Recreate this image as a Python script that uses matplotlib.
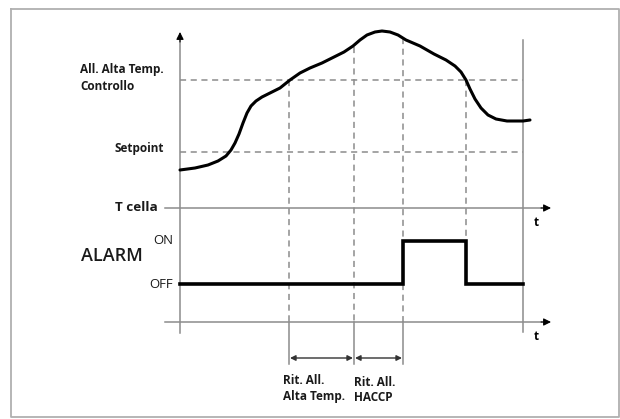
import matplotlib.pyplot as plt

plt.rcParams['font.family'] = ['Open Sans', 'DejaVu Sans']

# temperature curve (x = time, y = screen position of the temperature)
curve_t = [180, 195, 208, 218, 226, 231, 235, 239, 243, 247, 251, 256, 262, 270, 280,
           290, 300, 310, 322, 334, 344, 353, 360, 367, 375, 382, 390, 398, 406,
           420, 434, 446, 455, 461, 466, 470, 475, 481, 488, 496, 507, 523, 530]
curve_temp = [170, 168, 165, 161, 156, 150, 143, 134, 123, 113, 106, 101, 97, 93, 88,
              80, 73, 68, 63, 57, 52, 46, 40, 35, 32, 31, 32, 35, 40,
              46, 54, 60, 66, 72, 80, 89, 99, 108, 115, 119, 121, 121, 120]

# thresholds
level_alarm = 80
level_setpoint = 152

# event times: alarm threshold crossed, delay end, HACCP end, back below
t_cross = 289
t_delay = 354
t_haccp = 403
t_back = 466
t_end = 523
t_start = 180
peak_top = [80, 47, 38, 80]

# alarm signal
alarm_on = 241
alarm_off = 284
alarm_t = [t_start, t_haccp, t_haccp, t_back, t_back, t_end]
alarm_y = [alarm_off, alarm_off, alarm_on, alarm_on, alarm_off, alarm_off]

axis_temp = 208
axis_alarm = 322

fig = plt.figure(figsize=(6.2, 4.19), dpi=100)
ax = fig.add_axes([0, 0, 1, 1])
ax.set_xlim(0, 620)
ax.set_ylim(419, 0)
ax.axis('off')

grey = '#8c8c8c'
dash = '#8c8c8c'
ink = '#1a1a1a'

# frame
ax.plot([11, 619, 619, 11, 11], [9, 9, 417, 417, 9], color='#b0b0b0', lw=1.3)

# main vertical axis with arrow
ax.plot([t_start, t_start], [333, 40], color=grey, lw=1.1)
ax.annotate('', xy=(t_start, 32), xytext=(t_start, 42),
            arrowprops=dict(arrowstyle='-|>', color='black', lw=0.8,
                            mutation_scale=11, shrinkA=0, shrinkB=0))
# right border line
ax.plot([t_end, t_end], [40, 332], color=grey, lw=1.1)

# time axes
for ya in [axis_temp, axis_alarm]:
    ax.plot([165, 542], [ya, ya], color=grey, lw=1.1)
    ax.annotate('', xy=(551, ya), xytext=(541, ya),
                arrowprops=dict(arrowstyle='-|>', color='black', lw=0.8,
                                mutation_scale=11, shrinkA=0, shrinkB=0))
    ax.text(536, ya + 14, 't', fontsize=8.5, fontweight='bold', ha='center', va='center')

# threshold lines
for lv in [level_alarm, level_setpoint]:
    ax.plot([t_start, t_end], [lv, lv], color=dash, lw=1.1, ls=(0, (4, 3)))

# vertical event lines
events = [t_cross, t_delay, t_haccp, t_back]
ends = [axis_alarm, axis_alarm, axis_alarm, alarm_on]
for tx, top, bot in zip(events, peak_top, ends):
    ax.plot([tx, tx], [top, bot], color=dash, lw=1.1, ls=(0, (4, 3)))
for tx in [t_cross, t_delay, t_haccp]:
    ax.plot([tx, tx], [axis_alarm, 364], color=grey, lw=1.1)

# temperature curve
ax.plot(curve_t, curve_temp, color='black', lw=2.2, solid_joinstyle='round',
        solid_capstyle='round')

# alarm signal
ax.plot(alarm_t, alarm_y, color='black', lw=2.6, solid_joinstyle='miter')

# delay dimension arrows
for a, b in [(t_cross, t_delay), (t_delay, t_haccp)]:
    ax.annotate('', xy=(b - 1, 358), xytext=(a + 1, 358),
                arrowprops=dict(arrowstyle='<|-|>', color='#333333', lw=1.0,
                                mutation_scale=8, shrinkA=0, shrinkB=0))

# labels
ax.text(80, 69, 'All. Alta Temp.', fontsize=8.5, fontweight='bold', va='center', color=ink)
ax.text(80, 86, 'Controllo', fontsize=8.5, fontweight='bold', va='center', color=ink)
ax.text(164, 148, 'Setpoint', fontsize=8.5, fontweight='bold', va='center', ha='right', color=ink)
ax.text(158, 207, 'T cella', fontsize=9.7, fontweight='bold', va='center', ha='right', color=ink)
ax.text(81, 256, 'ALARM', fontsize=13, fontweight='semibold', va='center', color=ink)
ax.text(173, 240, 'ON', fontsize=9.5, va='center', ha='right', color=ink)
ax.text(173, 284, 'OFF', fontsize=9.5, va='center', ha='right', color=ink)
ax.text(283, 380, 'Rit. All.', fontsize=8.5, fontweight='bold', va='center', color=ink)
ax.text(283, 396, 'Alta Temp.', fontsize=8.5, fontweight='bold', va='center', color=ink)
ax.text(354, 382, 'Rit. All.', fontsize=8.5, fontweight='bold', va='center', color=ink)
ax.text(354, 397, 'HACCP', fontsize=8.5, fontweight='bold', va='center', color=ink)

fig.savefig('out.png', dpi=100)
